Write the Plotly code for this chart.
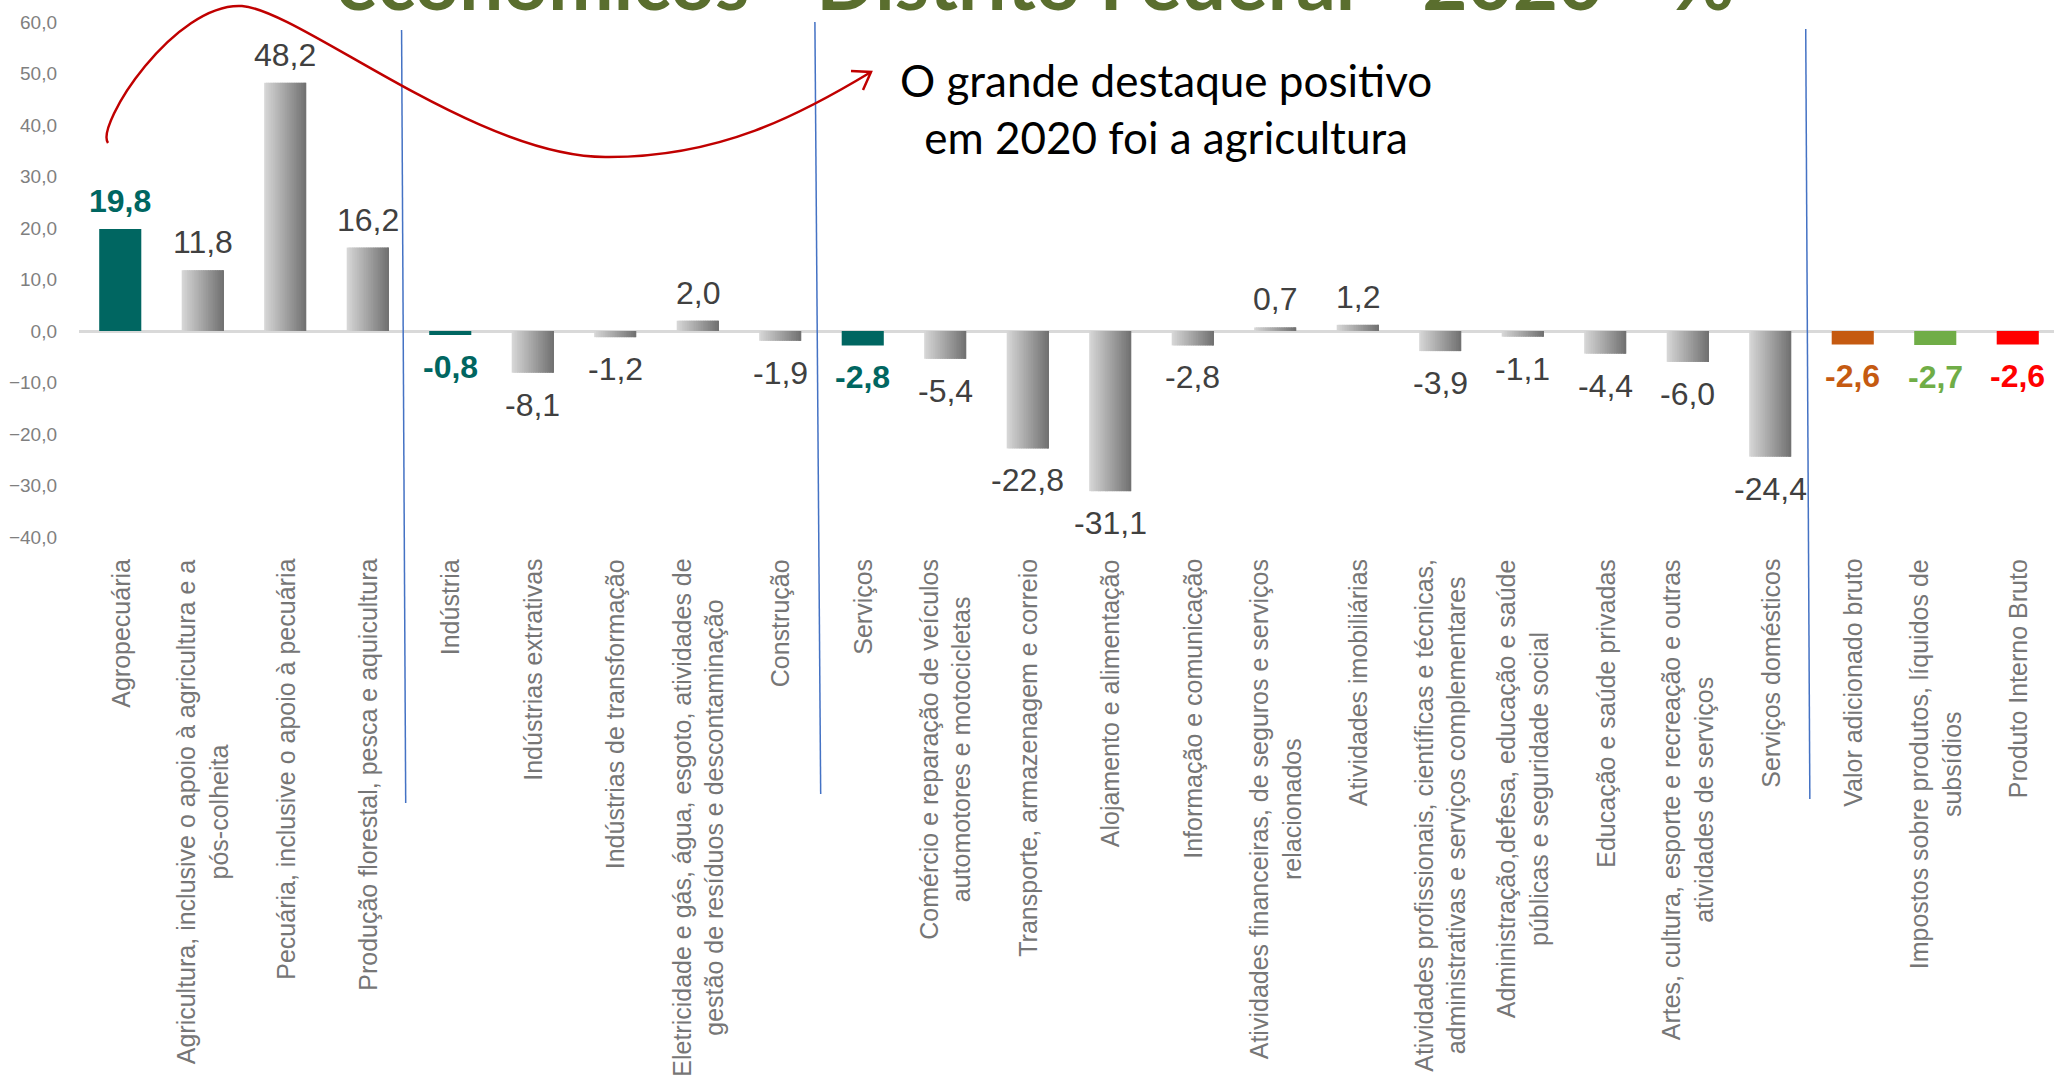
import plotly.graph_objects as go

# ---- data ----
categories = [
    "Agropecuária",
    "Agricultura, inclusive o apoio à agricultura e a<br>pós-colheita",
    "Pecuária, inclusive o apoio à pecuária",
    "Produção florestal, pesca e aquicultura",
    "Indústria",
    "Indústrias extrativas",
    "Indústrias de transformação",
    "Eletricidade e gás, água, esgoto, atividades de<br>gestão de resíduos e descontaminação",
    "Construção",
    "Serviços",
    "Comércio e reparação de veículos<br>automotores e motocicletas",
    "Transporte, armazenagem e correio",
    "Alojamento e alimentação",
    "Informação e comunicação",
    "Atividades financeiras, de seguros e serviços<br>relacionados",
    "Atividades imobiliárias",
    "Atividades profissionais, científicas e técnicas,<br>administrativas e serviços complementares",
    "Administração,defesa, educação e saúde<br>públicas e seguridade social",
    "Educação e saúde privadas",
    "Artes, cultura, esporte e recreação e outras<br>atividades de serviços",
    "Serviços domésticos",
    "Valor adicionado bruto",
    "Impostos sobre produtos, líquidos de<br>subsídios",
    "Produto Interno Bruto",
]
values = [19.8, 11.8, 48.2, 16.2, -0.8, -8.1, -1.2, 2.0, -1.9, -2.8, -5.4, -22.8,
          -31.1, -2.8, 0.7, 1.2, -3.9, -1.1, -4.4, -6.0, -24.4, -2.6, -2.7, -2.6]
# bars not listed here get the grey gradient
highlight = {0: "#006661", 4: "#006661", 9: "#006661",
             21: "#c55a11", 22: "#70ad47", 23: "#ff0000"}

title_text = "econômicos - Distrito Federal - 2020 - %"
note_text = "O grande destaque positivo<br>em 2020 foi a agricultura"

# ---- page geometry (pixels) ----
W, H = 2054, 1081
ML, MR, MT, MB = 79, 0, 22, 544
PW, PH = W - ML - MR, H - MT - MB


def px(x, y):
    """page pixel -> paper coords"""
    return (x - ML) / PW, (H - MB - y) / PH


idx = list(range(len(categories)))
bar_w = 0.51
n_slices = 24
step = bar_w / n_slices

fig = go.Figure()

# grey bars drawn as thin overlapping slices to fake a left-to-right gradient
grey_vals = [None if i in highlight else v for i, v in zip(idx, values)]
for k in range(n_slices):
    t = k / (n_slices - 1)
    c = int(214 - t * 100)
    fig.add_trace(go.Bar(
        x=idx, y=grey_vals,
        width=step * (1.8 if k < n_slices - 1 else 1.0),
        offset=-bar_w / 2 + k * step,
        marker=dict(color=f"rgb({c},{c},{c})", line=dict(width=0)),
        showlegend=False, hoverinfo="skip",
    ))

col_vals = [v if i in highlight else None for i, v in zip(idx, values)]
fig.add_trace(go.Bar(
    x=idx, y=col_vals, width=bar_w,
    marker=dict(color=[highlight.get(i, "#000") for i in idx], line=dict(width=0)),
    showlegend=False,
))

# value labels
for i, v in zip(idx, values):
    txt = f"{v:.1f}".replace(".", ",")
    if i in highlight:
        txt = f"<b>{txt}</b>"
        color = highlight[i]
    else:
        color = "#404040"
    fig.add_annotation(
        x=i, y=v, xref="x", yref="y", text=txt, showarrow=False,
        yanchor="bottom" if v >= 0 else "top",
        yshift=8 if v >= 0 else -12,
        font=dict(family="Liberation Sans, Arial", size=32, color=color),
    )

# category labels (rotated, lines centred)
for i, name in zip(idx, categories):
    fig.add_annotation(
        x=i, y=px(0, 557)[1], xref="x", yref="paper", text=name,
        showarrow=False, textangle=-90, xanchor="center", yanchor="top",
        align="center",
        font=dict(family="Liberation Sans, Arial", size=25, color="#767676"),
    )

# blue separators
for (xt, yt, xb, yb) in [(3.41, 30, 3.46, 803), (8.42, 22, 8.49, 794), (20.43, 29, 20.48, 799)]:
    fig.add_shape(type="line", xref="x", yref="paper",
                  x0=xt, y0=px(0, yt)[1], x1=xb, y1=px(0, yb)[1],
                  line=dict(color="#4472c4", width=1.5))

# red curved arrow
pts = [(108, 143), (95, 125), (175, 2), (242, 6), (300, 10), (480, 160), (609, 157),
       (720, 157), (800, 115), (871, 72)]
p = [px(*q) for q in pts]
path = f"M {p[0][0]},{p[0][1]} C " + " ".join(f"{a},{b}" for a, b in p[1:4]) \
       + " C " + " ".join(f"{a},{b}" for a, b in p[4:7]) \
       + " C " + " ".join(f"{a},{b}" for a, b in p[7:10])
fig.add_shape(type="path", xref="paper", yref="paper", path=path,
              line=dict(color="#c00000", width=2.5))
a1, tip, a2 = px(851, 71), px(871, 72), px(863, 90)
fig.add_shape(type="path", xref="paper", yref="paper",
              path=f"M {a1[0]},{a1[1]} L {tip[0]},{tip[1]} L {a2[0]},{a2[1]}",
              line=dict(color="#c00000", width=2.5))

fig.add_annotation(
    x=px(1166, 0)[0], y=px(0, 108)[1], xref="paper", yref="paper",
    text=note_text, showarrow=False, align="center",
    xanchor="center", yanchor="middle",
    font=dict(family="Lato, Open Sans", size=44, color="#000000"),
)

# slide title, cut off by the top of the picture
fig.add_annotation(
    x=px(1035, 0)[0], y=px(0, 29)[1], xref="paper", yref="paper",
    text=f"<b>{title_text}</b>", showarrow=False,
    xanchor="center", yanchor="bottom",
    font=dict(family="Lato, Open Sans", size=78, color="#5a6e2e"),
)

fig.update_layout(
    width=W, height=H,
    margin=dict(l=ML, r=MR, t=MT, b=MB),
    barmode="overlay",
    plot_bgcolor="white", paper_bgcolor="white",
    separators=",.",
    xaxis=dict(range=[-0.5, -0.5 + PW / 82.5], showticklabels=False,
               showgrid=False, zeroline=False, showline=False),
    yaxis=dict(range=[-40, 60], dtick=10, tickformat=".1f",
               showgrid=False, showline=False,
               zeroline=True, zerolinecolor="#d9d9d9", zerolinewidth=3,
               ticklabelstandoff=21,
               tickfont=dict(family="Liberation Sans, Arial", size=19, color="#7f7f7f")),
)

# drop the default 8px body margin so the figure sits at the page corner
fig.write_html("out.html", config={"displayModeBar": False},
               post_script="document.body.style.margin='0';")
